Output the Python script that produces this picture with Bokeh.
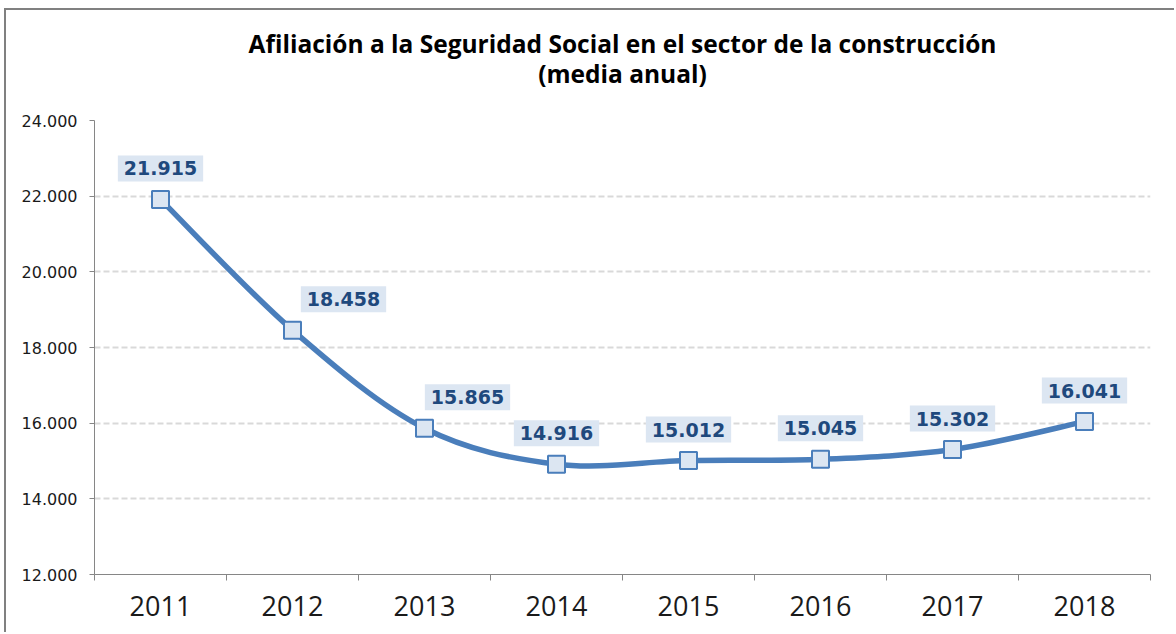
import numpy as np
from bokeh.plotting import figure
from bokeh.models import ColumnDataSource, Label, FixedTicker, Range1d, Title
from bokeh.embed import file_html
from bokeh.resources import INLINE

# ---- data ----
years = ["2011", "2012", "2013", "2014", "2015", "2016", "2017", "2018"]
afiliados = [21915, 18458, 15865, 14916, 15012, 15045, 15302, 16041]
value_labels = ["21.915", "18.458", "15.865", "14.916", "15.012", "15.045", "15.302", "16.041"]
y_ticks = [12000, 14000, 16000, 18000, 20000, 22000, 24000]
y_tick_labels = ["12.000", "14.000", "16.000", "18.000", "20.000", "22.000", "24.000"]
title_lines = ["Afiliación a la Seguridad Social en el sector de la construcción", "(media anual)"]

# ---- layout / style ----
label_dx = [0, 51, 43, 0, 0, 0, 0, 0]
title_standoff = [-72, 62]
LINE_BLUE = "#4a7ebb"
LIGHT_BLUE = "#dce6f2"
LABEL_BLUE = "#1f497d"
AXIS_GRAY = "#868686"

FW, FH = 1056, 454
p = figure(frame_width=FW, frame_height=FH, output_backend="svg", toolbar_location=None,
           x_range=Range1d(0, len(years)), y_range=Range1d(y_ticks[0], y_ticks[-1]),
           min_border_left=88, min_border_right=24, min_border_top=110, min_border_bottom=58)
p.outline_line_color = None
p.styles = {"border-left": "2px solid #808080", "border-top": "2px solid #808080",
            "margin-left": "4px", "margin-top": "8px"}

xi = np.arange(len(years)) + 0.5
y = np.array(afiliados, dtype=float)

# smooth curve (Catmull-Rom -> cubic Bezier, as spreadsheet smoothing)
xp = np.concatenate([[xi[0]], xi, [xi[-1]]])
yp = np.concatenate([[y[0]], y, [y[-1]]])
x0, y0 = xp[1:-2], yp[1:-2]
x1, y1 = xp[2:-1], yp[2:-1]
cx0 = x0 + (xp[2:-1] - xp[0:-3]) / 6.0
cy0 = y0 + (yp[2:-1] - yp[0:-3]) / 6.0
cx1 = x1 - (xp[3:] - xp[1:-2]) / 6.0
cy1 = y1 - (yp[3:] - yp[1:-2]) / 6.0
p.bezier(x0=x0, y0=y0, x1=x1, y1=y1, cx0=cx0, cy0=cy0, cx1=cx1, cy1=cy1,
         line_color=LINE_BLUE, line_width=5.5, line_cap="round")

src = ColumnDataSource(dict(x=xi, y=y))
p.scatter("x", "y", source=src, marker="square", size=17,
          fill_color=LIGHT_BLUE, line_color=LINE_BLUE, line_width=2)

for xv, yv, txt, dx in zip(xi, y, value_labels, label_dx):
    p.add_layout(Label(x=float(xv), y=float(yv), text=txt, x_offset=dx, y_offset=31,
                       text_align="center", text_baseline="middle",
                       text_font="DejaVu Sans", text_font_style="bold", text_font_size="19px",
                       text_color=LABEL_BLUE, background_fill_color=LIGHT_BLUE, padding=6))

# axes
p.xaxis.ticker = FixedTicker(ticks=list(xi), minor_ticks=list(range(len(years) + 1)))
p.xaxis.major_label_overrides = {float(v): t for v, t in zip(xi, years)}
p.xaxis.major_tick_line_color = None
p.xaxis.major_tick_out = 0
p.xaxis.minor_tick_line_color = AXIS_GRAY
p.xaxis.minor_tick_out = 6
p.xaxis.minor_tick_in = 0
p.xaxis.axis_line_color = AXIS_GRAY
p.xaxis.major_label_standoff = 15
p.xaxis.major_label_text_font = "Open Sans"
p.xaxis.major_label_text_font_size = "27px"
p.xaxis.major_label_text_color = "#1a1a1a"

p.yaxis.ticker = FixedTicker(ticks=y_ticks, minor_ticks=[])
p.yaxis.major_label_overrides = {v: t for v, t in zip(y_ticks, y_tick_labels)}
p.yaxis.axis_line_color = AXIS_GRAY
p.yaxis.major_tick_line_color = AXIS_GRAY
p.yaxis.major_tick_out = 5
p.yaxis.major_tick_in = 0
p.yaxis.major_label_standoff = 12
p.yaxis.major_label_text_font = "DejaVu Sans"
p.yaxis.major_label_text_font_size = "16px"
p.yaxis.major_label_text_color = "#1a1a1a"

p.xgrid.grid_line_color = None
p.ygrid.grid_line_color = "#d9d9d9"
p.ygrid.grid_line_width = 2
p.ygrid.grid_line_dash = "6 3"

# title (two lines, subtitle added first so it sits nearest the plot)
for line, so in reversed(list(zip(title_lines, title_standoff))):
    p.add_layout(Title(text=line, align="center", standoff=so, text_font="Open Sans",
                       text_font_style="bold", text_font_size="24.5px", text_color="#000000"),
                 "above")

open("out.html", "w").write(file_html(p, INLINE))
